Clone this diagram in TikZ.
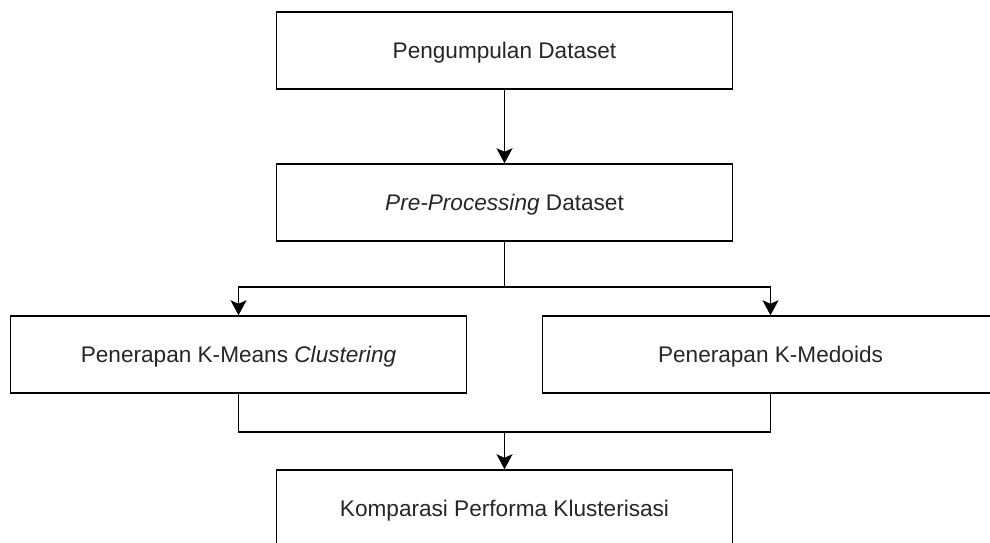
\documentclass[tikz,border=0pt]{standalone}
\usepackage{fontspec}
\setmainfont{Liberation Sans}
\usetikzlibrary{arrows.meta}

\tikzset{
  stepbox/.style={draw, rectangle, line width=1.5pt, minimum width=456pt,
    minimum height=77pt, text=black!85, text height=18.5pt, text depth=2pt,
    font=\fontsize{22.6}{27}\selectfont},
  flow/.style={line width=1.5pt, -{Stealth[width=16pt,length=15pt,inset=3.5pt]}},
  link/.style={line width=1.5pt},
}

\begin{document}
\begin{tikzpicture}[x=1pt, y=-1pt, node distance=152pt]
  \useasboundingbox (0,0) rectangle (990,542);

  \node[stepbox] at (504.5,50.5) (kumpul) {Pengumpulan Dataset};
  \node[stepbox, below of=kumpul] (prepro) {\textit{Pre-Processing} Dataset};
  \node[stepbox, below of=prepro, xshift=-266pt] (kmeans) {Penerapan K-Means \textit{Clustering}};
  \node[stepbox, below of=prepro, xshift=266pt] (kmedoids) {Penerapan K-Medoids};
  \node[stepbox, below of=prepro, yshift=-154pt] (komparasi) {Komparasi Performa Klusterisasi};

  \draw[flow] (kumpul) -- (prepro);
  % split into both methods
  \draw[flow] (prepro.south) -- ++(0,45) -| (kmeans.north);
  \draw[flow] (prepro.south) -- ++(0,45) -| (kmedoids.north);
  % merge results
  \draw[link] (kmeans.south) -- ++(0,38) coordinate (gabung) -| (kmedoids.south);
  \draw[flow] (gabung -| komparasi.north) -- (komparasi.north);
\end{tikzpicture}
\end{document}
